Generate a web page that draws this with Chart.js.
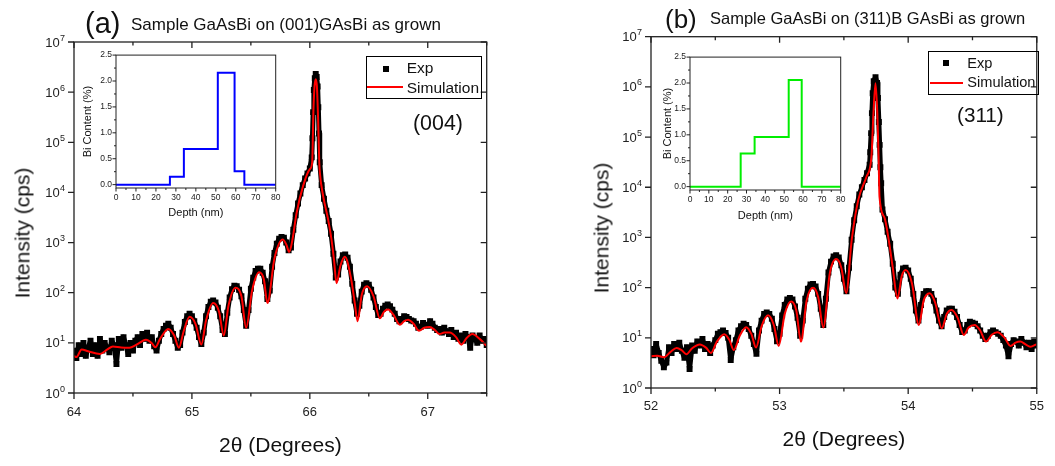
<!DOCTYPE html>
<html>
<head>
<meta charset="utf-8">
<script src="https://cdn.jsdelivr.net/npm/chart.js@4.4.0/dist/chart.umd.min.js"></script>
<style>
  body { margin: 0; background: #fff; }
  #wrap { position: relative; width: 1055px; height: 466px; overflow: hidden;
          font-family: 'Liberation Sans', Arial, sans-serif; color: #111; }
  canvas { position: absolute; }
  .t { position: absolute; white-space: nowrap; line-height: 1; }
</style>
</head>
<body>
<div id="wrap">
  <canvas id="mainA" width="500" height="466" style="left:0;top:0"></canvas>
  <canvas id="mainB" width="495" height="466" style="left:560px;top:0"></canvas>
  <canvas id="insetA" width="210" height="180" style="left:78px;top:46px"></canvas>
  <canvas id="insetB" width="200" height="180" style="left:652px;top:48px"></canvas>
</div>
<script>
// ---- panel (a): (004) reflection, 2theta 64..67.5, exp sampled every 0.02 deg
var expA_start = 64.0;
var expA_step = 0.02;
var expA = [
  7, 5, 9, 6, 10, 5.5, 8, 11, 6, 9,
  5.5, 12, 7, 10, 8, 6.5, 11, 9, 3.8, 12,
  8, 13, 9, 6, 10, 7, 11, 13, 9, 15,
  12, 16, 11, 13, 8.5, 7, 11, 15, 19, 22,
  24, 20, 15, 11, 8, 9, 16, 26, 34, 38,
  34, 27, 20, 13, 9.5, 16, 34, 52, 66, 70,
  64, 50, 34, 18, 15, 40, 80, 118, 138, 135,
  115, 85, 45, 22, 45, 120, 200, 270, 300, 300,
  250, 170, 75, 110, 330, 620, 950, 1200, 1300, 1250,
  1000, 700, 800, 1800, 3500, 6000, 9500, 14000, 19000, 24000,
  30000, null, null, null, null, 14000, 7500, 4300, 2700, 1500,
  600, 200, 230, 420, 560, 580, 500, 330, 150, 70,
  38, 55, 105, 145, 155, 145, 115, 80, 52, 36,
  38, 48, 55, 58, 54, 46, 38, 30, 27, 30,
  34, 33, 30, 28, 27, 24, 20, 21, 25, 23,
  22, 27, 24, 20, 18, 19, 16, 20, 17, 15,
  18, 13, 16, 12, 14, 11, 15, 13, 8, 14,
  12, 10, 14, 11, 12, 9
];
// exp points on the substrate peak (finer steps)
var expPeakA = [
  [66.016, 50000], [66.022, 120000], [66.028, 400000], [66.034, 1100000],
  [66.042, 1900000], [66.05, 2300000], [66.058, 2000000], [66.066, 1300000],
  [66.072, 500000], [66.078, 150000], [66.084, 40000]
];
var simA = [
  [64.00, 5.5], [64.02, 5.2], [64.065, 7.4], [64.12, 6.8], [64.22, 6.0], [64.28, 7.3],
  [64.33, 8.5], [64.40, 8.1], [64.47, 8.0], [64.53, 9.2], [64.61, 11.5], [64.66, 9.8],
  [64.69, 8.2], [64.73, 12], [64.80, 19], [64.85, 14], [64.89, 8], [64.93, 17],
  [64.98, 33], [65.03, 24], [65.08, 9.3], [65.12, 28], [65.18, 62], [65.23, 42],
  [65.27, 14], [65.31, 55], [65.37, 125], [65.42, 85], [65.46, 20], [65.51, 110],
  [65.57, 255], [65.61, 185], [65.64, 62], [65.70, 480], [65.77, 1150], [65.80, 920],
  [65.825, 650], [65.853, 1150], [65.887, 3800], [65.943, 13500], [66.00, 29000],
  [66.02, 40000], [66.03, 400000], [66.04, 1300000], [66.05, 1800000], [66.06, 1300000],
  [66.07, 300000], [66.08, 40000], [66.085, 25000], [66.113, 8500], [66.155, 2900],
  [66.184, 1150], [66.205, 450], [66.226, 155], [66.26, 350], [66.297, 520],
  [66.35, 190], [66.38, 65], [66.405, 27], [66.44, 90], [66.486, 134], [66.54, 85],
  [66.594, 31], [66.63, 42], [66.664, 46], [66.71, 36], [66.763, 23], [66.80, 27],
  [66.833, 29], [66.88, 24], [66.926, 17.4], [66.97, 20], [67.017, 20.6], [67.06, 18],
  [67.10, 15], [67.14, 16], [67.186, 16], [67.24, 13], [67.285, 9.2], [67.33, 12.5],
  [67.378, 15], [67.44, 12], [67.50, 8.7]
];

// ---- panel (b): (311) reflection, 2theta 52..55
var expB_start = 52.0;
var expB_step = 0.02;
var expB = [
  6, 4.5, 7.5, 5, 3.5, 2.6, 3.2, 6.5, 5, 7.5,
  6, 8, 5.5, 4, 6.5, 2.4, 7, 5.5, 8.5, 7,
  9.5, 6, 7.5, 5, 7, 9, 12, 13, 14, 12.5,
  10, 3.6, 6.5, 9, 14, 17, 19, 18, 15, 11,
  7.5, 4.8, 14, 22, 30, 32, 30, 24, 15, 8.5,
  12, 28, 45, 58, 62, 58, 42, 25, 11, 22,
  60, 95, 115, 118, 105, 75, 38, 18, 60, 200,
  330, 420, 440, 400, 280, 150, 85, 250, 900, 2200,
  4200, 7200, 10000, 14000, 19000, 28000, null, null, null, null,
  3600, 2300, 1300, 750, 300, 100, 75, 180, 240, 250,
  220, 150, 75, 35, 22, 45, 75, 85, 85, 75,
  55, 35, 22, 17, 26, 35, 38, 38, 33, 26,
  18, 13, 14, 18, 21, 20, 19, 17, 14, 11,
  9.5, 11, 13, 14, 13, 12, 11, 9, 7, 4.3,
  7.5, 9, 8.5, 7, 9.5, 8, 6.5, 8, 6, 8.5,
  7
];
var expPeakB = [
  [53.705, 50000], [53.712, 120000], [53.718, 300000], [53.724, 750000],
  [53.732, 1300000], [53.746, 1550000], [53.758, 1200000], [53.765, 600000],
  [53.772, 200000], [53.778, 70000], [53.784, 25000], [53.79, 12000]
];
var simB = [
  [52.00, 4.3], [52.05, 4.4], [52.10, 4.1], [52.15, 5.2], [52.20, 6.3], [52.24, 5.6],
  [52.275, 4.7], [52.32, 6.2], [52.38, 7.4], [52.43, 6.3], [52.466, 5.0], [52.51, 8.2],
  [52.57, 11.8], [52.61, 9.0], [52.644, 5.7], [52.69, 11], [52.74, 16.3], [52.78, 12],
  [52.817, 6.4], [52.86, 17], [52.91, 28], [52.955, 18], [52.993, 6.9], [53.04, 30],
  [53.09, 53], [53.13, 35], [53.166, 8.4], [53.21, 55], [53.26, 99], [53.30, 65],
  [53.34, 16], [53.39, 190], [53.44, 370], [53.48, 250], [53.518, 78], [53.561, 900],
  [53.612, 5600], [53.675, 16000], [53.714, 40000], [53.73, 300000], [53.746, 1180000],
  [53.76, 300000], [53.77, 40000], [53.777, 6500], [53.815, 2500], [53.85, 850],
  [53.88, 250], [53.917, 61], [53.95, 170], [53.981, 224], [54.03, 120], [54.083, 18],
  [54.12, 55], [54.167, 77], [54.21, 50], [54.261, 15.5], [54.30, 30], [54.338, 36],
  [54.385, 25], [54.432, 11.4], [54.47, 16], [54.516, 18], [54.56, 14], [54.605, 8.4],
  [54.65, 11.5], [54.694, 12.9], [54.75, 10], [54.796, 6.9], [54.835, 8], [54.872, 8.4],
  [54.91, 7.5], [54.95, 6.6], [55.00, 7.5]
];

// ---- insets: Bi depth profiles (value holds from the previous depth to this one)
var depthA = [0, 27, 34, 51, 59.4, 64.3, 80];
var biA = [0, 0, 0.15, 0.69, 2.16, 0.256, 0];
var depthB = [0, 26.9, 34.3, 52.4, 59.3, 80];
var biB = [0, 0, 0.64, 0.96, 2.06, 0];

var decades = [1, 10, 100, 1e3, 1e4, 1e5, 1e6, 1e7];
var FONT = "'Liberation Sans', Arial, sans-serif";

Chart.defaults.font.family = FONT;
Chart.defaults.color = '#222';

function buildPoints(x0, step, ys, extra) {
  var pts = [];
  ys.forEach(function (y, i) {
    if (y !== null) pts.push({ x: +(x0 + i * step).toFixed(3), y: y });
  });
  extra.forEach(function (p) { pts.push({ x: p[0], y: p[1] }); });
  return pts.sort(function (a, b) { return a.x - b.x; });
}
function pairs(list) {
  return list.map(function (p) { return { x: p[0], y: p[1] }; });
}
function steps(xs, ys) {
  return xs.map(function (x, i) { return { x: x, y: ys[i] }; });
}
function range(a, b, s) {
  var out = [];
  for (var v = a; v <= b + 1e-9; v += s) out.push(+v.toFixed(4));
  return out;
}

// box frame + tick marks (out on left/bottom, in on top/right when mirrored)
var frameTicks = {
  id: 'frameTicks',
  afterDatasetsDraw: function (chart, args, o) {
    var ctx = chart.ctx, a = chart.chartArea, sx = chart.scales.x, sy = chart.scales.y;
    ctx.save();
    ctx.strokeStyle = '#222';
    ctx.lineWidth = o.lineWidth;
    ctx.strokeRect(a.left, a.top, a.right - a.left, a.bottom - a.top);
    ctx.beginPath();
    function xt(v, len) {
      var p = sx.getPixelForValue(v);
      ctx.moveTo(p, a.bottom); ctx.lineTo(p, a.bottom + len);
      if (o.mirror) { ctx.moveTo(p, a.top); ctx.lineTo(p, a.top + len); }
    }
    function yt(v, len) {
      var p = sy.getPixelForValue(v);
      ctx.moveTo(a.left, p); ctx.lineTo(a.left - len, p);
      if (o.mirror) { ctx.moveTo(a.right, p); ctx.lineTo(a.right - len, p); }
    }
    o.xMajor.forEach(function (v) { xt(v, o.major); });
    o.xMinor.forEach(function (v) { xt(v, o.minor); });
    o.yMajor.forEach(function (v) { yt(v, o.major); });
    o.yMinor.forEach(function (v) { yt(v, o.minor); });
    ctx.stroke();
    ctx.restore();
  }
};

// "10" with a raised exponent on the log axis
var decadeLabels = {
  id: 'decadeLabels',
  afterDraw: function (chart, args, o) {
    var ctx = chart.ctx, a = chart.chartArea, sy = chart.scales.y;
    ctx.save();
    ctx.fillStyle = '#222';
    ctx.textBaseline = 'alphabetic';
    decades.forEach(function (v) {
      var k = String(Math.round(Math.log10(v)));
      var py = sy.getPixelForValue(v);
      ctx.font = o.sup + 'px ' + FONT;
      var sw = ctx.measureText(k).width;
      var supX = a.left - o.gap - sw;
      ctx.textAlign = 'left';
      ctx.fillText(k, supX, py + o.supDy);
      ctx.font = o.size + 'px ' + FONT;
      ctx.textAlign = 'right';
      ctx.fillText('10', supX - 0.3, py + o.baseDy);
    });
    ctx.restore();
  }
};

function mainChart(id, expPts, simPts, xmin, xmax, box) {
  return new Chart(document.getElementById(id), {
    type: 'line',
    data: {
      datasets: [
        {
          label: 'Simulation', data: simPts, borderColor: '#ff0000', borderWidth: 2,
          pointRadius: 0, cubicInterpolationMode: 'monotone', order: 0
        },
        {
          label: 'Exp', data: expPts, borderColor: '#000', backgroundColor: '#000',
          borderWidth: 5, borderJoinStyle: 'round', pointStyle: 'rect', pointRadius: 4.2,
          pointBorderWidth: 0, tension: 0, order: 1
        }
      ]
    },
    options: {
      responsive: false, animation: false, events: [],
      layout: { padding: { top: box.top, right: box.right, left: 0, bottom: 0 } },
      plugins: {
        legend: { display: false }, tooltip: { enabled: false },
        frameTicks: {
          xMajor: range(xmin, xmax, 1),
          xMinor: range(xmin + 0.5, xmax, 1),
          yMajor: decades, yMinor: [], major: 6, minor: 3.5, mirror: true, lineWidth: 1.3
        },
        decadeLabels: { size: 13, sup: 9, gap: 9, baseDy: 4.5, supDy: -1.5 }
      },
      scales: {
        x: {
          type: 'linear', min: xmin, max: xmax,
          grid: { display: false, drawTicks: false }, border: { display: false },
          ticks: {
            stepSize: 0.5, autoSkip: false, maxRotation: 0, padding: box.tickPad,
            font: { size: 13 },
            callback: function (v) { return Number.isInteger(v) ? String(v) : ''; }
          },
          title: {
            display: true, text: '2\u03b8 (Degrees)', color: '#111',
            font: { size: 21 }, padding: { top: 0, bottom: box.titlePad }
          },
          afterFit: function (s) { s.height = box.xh; }
        },
        y: {
          type: 'logarithmic', min: 1, max: 1e7,
          grid: { display: false, drawTicks: false }, border: { display: false },
          ticks: { display: false },
          afterBuildTicks: function (s) { s.ticks = decades.map(function (v) { return { value: v }; }); },
          afterFit: function (s) { s.width = box.yw; }
        }
      }
    },
    plugins: [frameTicks, decadeLabels]
  });
}

function insetChart(id, pts, color, box) {
  return new Chart(document.getElementById(id), {
    type: 'line',
    data: {
      datasets: [{
        data: pts, stepped: 'after', borderColor: color, borderWidth: 2, pointRadius: 0
      }]
    },
    options: {
      responsive: false, animation: false, events: [],
      layout: { padding: { top: box.top, right: box.right, left: 0, bottom: 0 } },
      plugins: {
        legend: { display: false }, tooltip: { enabled: false },
        frameTicks: {
          xMajor: range(0, 80, 10), xMinor: range(5, 75, 10),
          yMajor: range(0, 2.5, 0.5), yMinor: range(0.25, 2.25, 0.5),
          major: 3.5, minor: 2, mirror: false, lineWidth: 1
        }
      },
      scales: {
        x: {
          type: 'linear', min: 0, max: 80,
          grid: { display: false, drawTicks: false }, border: { display: false },
          ticks: { stepSize: 10, autoSkip: false, maxRotation: 0, padding: 5, font: { size: 8.5 } },
          title: {
            display: true, text: 'Depth (nm)', color: '#111', font: { size: 11 },
            padding: { top: 0, bottom: box.xTitlePad }
          },
          afterFit: function (s) { s.height = 38; }
        },
        y: {
          type: 'linear', min: -0.065, max: 2.5,
          grid: { display: false, drawTicks: false }, border: { display: false },
          afterBuildTicks: function (s) {
            s.ticks = range(0, 2.5, 0.5).map(function (v) { return { value: v }; });
          },
          ticks: {
            padding: 4, font: { size: 8.5 },
            callback: function (v) { return Number(v).toFixed(1); }
          },
          title: {
            display: true, text: 'Bi Content (%)', color: '#111', font: { size: 11 },
            padding: { top: box.yTitlePad, bottom: 0 }
          },
          afterFit: function (s) { s.width = 38; }
        }
      }
    },
    plugins: [frameTicks]
  });
}

mainChart('mainA', buildPoints(expA_start, expA_step, expA, expPeakA), pairs(simA), 64, 67.5,
  { top: 42, right: 13.3, xh: 73, yw: 74, tickPad: 12, titlePad: 6.9 });
mainChart('mainB', buildPoints(expB_start, expB_step, expB, expPeakB), pairs(simB), 52, 55,
  { top: 36.7, right: 11.7, xh: 78, yw: 91, tickPad: 11, titlePad: 13.2 });

insetChart('insetA', steps(depthA, biA), '#0000ff',
  { top: 8.3, right: 12.3, xTitlePad: 6.4, yTitlePad: 3.7 });
insetChart('insetB', steps(depthB, biB), '#00ee00',
  { top: 8.7, right: 11.3, xTitlePad: 5.4, yTitlePad: 8.9 });

// ---- text overlays
var wrap = document.getElementById('wrap');
function addText(txt, left, baseline, size) {
  var s = document.createElement('span');
  s.className = 't';
  s.textContent = txt;
  s.style.left = left + 'px';
  s.style.top = (baseline - 0.8465 * size) + 'px';
  s.style.fontSize = size + 'px';
  wrap.appendChild(s);
  return s;
}
function addVText(txt, cx, cy, size) {
  var s = document.createElement('span');
  s.className = 't';
  s.textContent = txt;
  s.style.left = cx + 'px';
  s.style.top = cy + 'px';
  s.style.fontSize = size + 'px';
  s.style.transform = 'translate(-50%,-50%) rotate(-90deg)';
  wrap.appendChild(s);
}
function addBox(left, top, w, h, css) {
  var d = document.createElement('div');
  d.style.position = 'absolute';
  d.style.left = left + 'px'; d.style.top = top + 'px';
  d.style.width = w + 'px'; d.style.height = h + 'px';
  Object.assign(d.style, css || {});
  wrap.appendChild(d);
  return d;
}

addText('(a)', 85, 34, 29);
addText('Sample GaAsBi on (001)GAsBi as grown', 131, 30.7, 17);
addText('(b)', 665, 28, 26);
addText('Sample GaAsBi on (311)B GAsBi as grown', 710, 24, 16.5);
addVText('Intensity (cps)', 21.5, 233, 21);
addVText('Intensity (cps)', 601, 227.5, 21);
addText('(004)', 413, 131.5, 21.4);
addText('(311)', 957, 123, 20.7);

// legends
addBox(366, 56, 116, 43, { border: '1px solid #000', boxSizing: 'border-box' });
addBox(382.5, 65.5, 6, 6, { background: '#000' });
addText('Exp', 406.7, 73, 15.5);
addBox(367, 86.3, 36, 2, { background: '#ff0000' });
addText('Simulation', 406.7, 93, 15.5);

addBox(928, 51, 111, 44, { border: '1px solid #000', boxSizing: 'border-box' });
addBox(943, 60.3, 6, 6, { background: '#000' });
addText('Exp', 967.3, 68.8, 14.6);
addBox(930, 82.3, 33, 2, { background: '#ff0000' });
addText('Simulation', 967.3, 87.8, 14.6);
</script>
</body>
</html>
